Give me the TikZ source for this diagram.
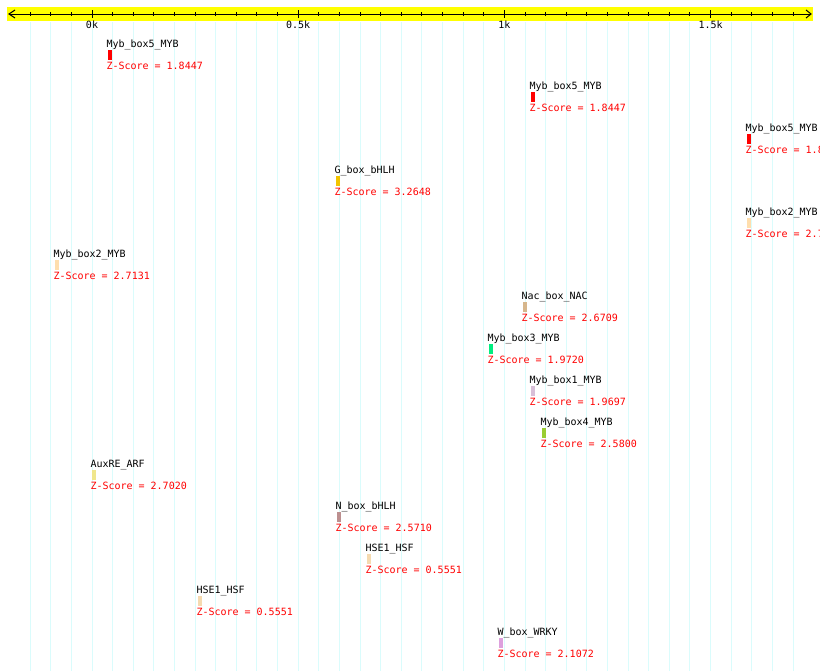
\documentclass[tikz,border=0pt]{standalone}
\usepackage{fontspec}
\setmonofont{DejaVu Sans Mono}
\definecolor{gridc}{RGB}{218,252,252}
\definecolor{rulery}{RGB}{255,255,0}
\definecolor{zred}{RGB}{255,0,0}
\definecolor{cgold}{RGB}{242,196,0}
\definecolor{cpeach}{RGB}{255,222,173}
\definecolor{ctan}{RGB}{214,182,140}
\definecolor{cspring}{RGB}{0,238,128}
\definecolor{cthistle}{RGB}{216,191,216}
\definecolor{cygreen}{RGB}{154,205,50}
\definecolor{ckhaki}{RGB}{240,230,140}
\definecolor{crosy}{RGB}{188,143,143}
\definecolor{cwheat}{RGB}{245,218,176}
\definecolor{cplum}{RGB}{221,160,221}
\begin{document}
\begin{tikzpicture}[x=0.75pt,y=-0.75pt,
  txt/.style={inner sep=0pt,outer sep=0pt,anchor=base west,font=\fontsize{7.5pt}{9pt}\ttfamily},
  lbl/.style={txt,text=black},
  zlbl/.style={txt,text=zred},
  ticklbl/.style={inner sep=0pt,anchor=base,font=\fontsize{7.5pt}{9pt}\ttfamily},
  gridline/.style={draw=gridc,line width=0.75pt},
  tickline/.style={draw=black,line width=0.75pt}]
\useasboundingbox (0,0) rectangle (820,671);
\clip (0,0) rectangle (820,671);
\fill[white] (0,0) rectangle (820,671);
% grid
\foreach \k in {-3,...,34}
  \draw[gridline] ({92+20.62*\k},22) -- ({92+20.62*\k},671);
% ruler
\fill[rulery] (7,7) rectangle (813,21);
\coordinate (axL) at (9,14);
\coordinate (axR) at (811,14);
\draw[tickline] (axL) -- (axR);
\draw[tickline] (15,10) -- (axL) -- (15,18);
\draw[tickline] (806,10) -- (axR) -- (806,18);
\foreach \k in {-3,...,34}
  \draw[tickline] ({92+20.62*\k},12) -- ++(0,4);
\foreach \k/\t [count=\i] in {0/0k,10/0.5k,20/1k,30/1.5k}{
  \draw[tickline] ({92+20.62*\k},10) -- ++(0,8);
  \node[ticklbl] (tl\i) at ({92+20.62*\k},28.5) {\t};
}
% features
\foreach \x/\r/\nm/\cl/\zs [count=\i] in {
  107/0/Myb\_box5\_MYB/zred/1.8447,
  530/1/Myb\_box5\_MYB/zred/1.8447,
  746/2/Myb\_box5\_MYB/zred/1.8447,
  335/3/G\_box\_bHLH/cgold/3.2648,
  746/4/Myb\_box2\_MYB/cpeach/2.7131,
  54/5/Myb\_box2\_MYB/cpeach/2.7131,
  522/6/Nac\_box\_NAC/ctan/2.6709,
  488/7/Myb\_box3\_MYB/cspring/1.9720,
  530/8/Myb\_box1\_MYB/cthistle/1.9697,
  541/9/Myb\_box4\_MYB/cygreen/2.5800,
  91/10/AuxRE\_ARF/ckhaki/2.7020,
  336/11/N\_box\_bHLH/crosy/2.5710,
  366/12/HSE1\_HSF/cwheat/0.5551,
  197/13/HSE1\_HSF/cwheat/0.5551,
  498/14/W\_box\_WRKY/cplum/2.1072}{
  \node[lbl] (n\i) at ({\x-0.5},{47.5+42*\r}) {\nm};
  \fill[\cl] ({\x+0.5},{50+42*\r}) rectangle ++(4,10);
  \node[zlbl] (z\i) at ({\x-0.5},{69.5+42*\r}) {Z-Score = \zs};
}
\end{tikzpicture}
\end{document}
